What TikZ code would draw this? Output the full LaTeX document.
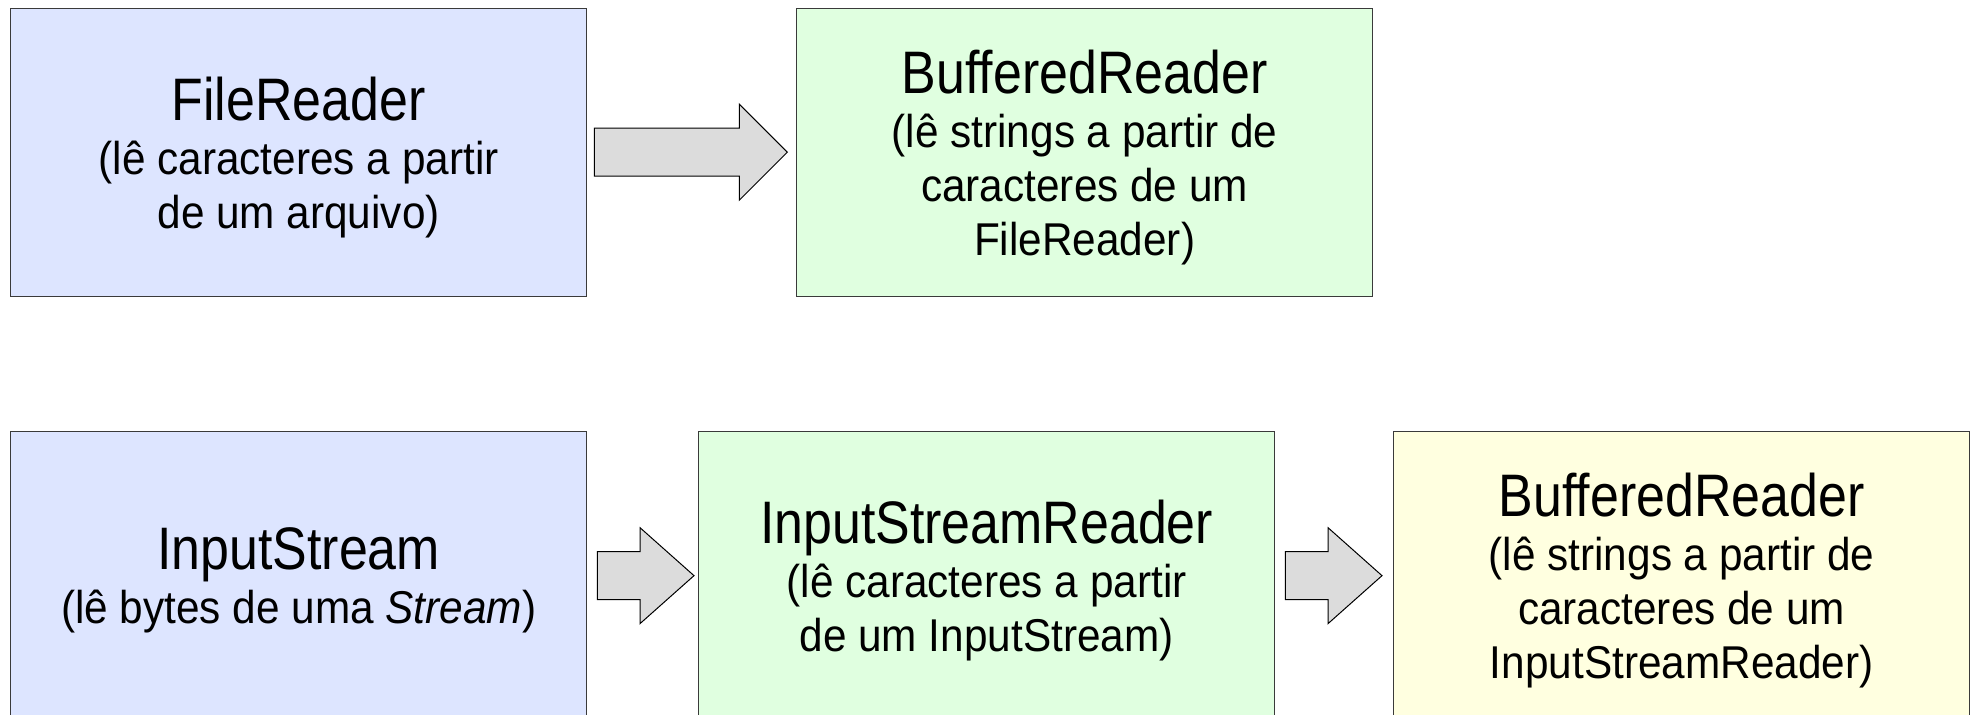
\documentclass[tikz,border=0pt]{standalone}
\usepackage{fontspec}
\setmainfont{Liberation Sans}
\newfontfamily\ttlfont[FakeStretch=0.865]{Liberation Sans}
\newfontfamily\subfont[FakeStretch=0.92]{Liberation Sans}
\usetikzlibrary{calc}
\definecolor{bluefill}{HTML}{DDE5FF}
\definecolor{greenfill}{HTML}{E0FFE0}
\definecolor{yellowfill}{HTML}{FFFFE0}
\definecolor{arrowfill}{HTML}{DCDCDC}
\definecolor{boxline}{HTML}{3A3A3A}
\newcommand{\ttl}[1]{{\ttlfont\fontsize{60}{54}\selectfont #1}}
\begin{document}
\begin{tikzpicture}[x=1pt,y=-1pt,
  box/.style={draw=boxline, line width=1.3pt, minimum width=576pt, minimum height=288pt, inner sep=0pt, anchor=north west},
  txt/.style={align=center, font=\subfont\fontsize{46}{54}\selectfont, inner sep=0pt, yshift=-5pt},
  bigarrow/.style={draw=black, fill=arrowfill, line width=1pt, line join=miter}]
\useasboundingbox (0,0) rectangle (1971,715);
\clip (0,0) rectangle (1971,715);
\fill[white] (0,0) rectangle (1971,715);
% boxes
\node[box, fill=bluefill] (fr) at (10,7.5) {};
\node[box, fill=greenfill] (brA) at (796,7.5) {};
\node[box, fill=bluefill] (is) at (10,431) {};
\node[box, fill=greenfill] (isr) at (698,431) {};
\node[box, fill=yellowfill] (brB) at (1393,431) {};
% texts
\node[txt] (frT) at (fr.center) {\ttl{FileReader}\\(lê caracteres a partir\\de um arquivo)};
\node[txt] (brAT) at (brA.center) {\ttl{BufferedReader}\\(lê strings a partir de\\caracteres de um\\FileReader)};
\node[txt] (isT) at (is.center) {\ttl{InputStream}\\(lê bytes de uma \textit{Stream})};
\node[txt] (isrT) at (isr.center) {\ttl{InputStreamReader}\\(lê caracteres a partir\\de um InputStream)};
\node[txt] (brBT) at (brB.center) {\ttl{BufferedReader}\\(lê strings a partir de\\caracteres de um\\InputStreamReader)};
% block arrows
\draw[bigarrow] ($(fr.east)+(7,-24)$) -- ++(145,0) -- ++(0,-24) -- ++(48,48) -- ++(-48,48) -- ++(0,-24) -- ++(-145,0) -- cycle;
\draw[bigarrow] ($(is.east)+(10,-24)$) -- ++(42.7,0) -- ++(0,-24) -- ++(54,48) -- ++(-54,48) -- ++(0,-24) -- ++(-42.7,0) -- cycle;
\draw[bigarrow] ($(isr.east)+(10,-24)$) -- ++(42.7,0) -- ++(0,-24) -- ++(54,48) -- ++(-54,48) -- ++(0,-24) -- ++(-42.7,0) -- cycle;
\end{tikzpicture}
\end{document}
